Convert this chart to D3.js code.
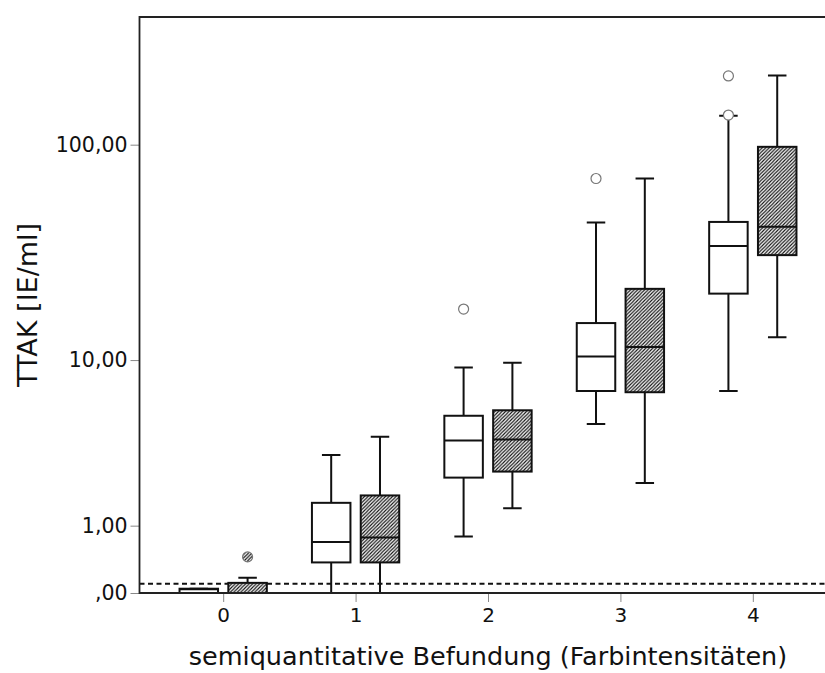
<!DOCTYPE html>
<html>
<head>
<meta charset="utf-8">
<script src="https://cdn.jsdelivr.net/npm/d3@7"></script>
<style>
  body { margin: 0; background: #fff; }
  svg { display: block; font-family: "DejaVu Sans", sans-serif; }
</style>
</head>
<body>
<svg id="chart"></svg>
<script>
// categories on the x axis and the two series drawn per category
const categories = ['0', '1', '2', '3', '4'];
const series = ['plain', 'hatched'];

// plain (white) boxes
const plainMin    = [0,     0,    0.79, 4.7,  7.0];
const plainQ1     = [0,     0.37, 2.28, 7.0,  20.8];
const plainMedian = [0.04,  0.69, 3.8,  10.4, 34.6];
const plainQ3     = [0.045, 1.53, 5.2,  15.1, 44.6];
const plainMax    = [0.045, 3.14, 9.2,  44.3, 135];
const plainOutliers = [[], [], [17.6], [70.3], [136, 204]];

// hatched boxes
const hatchedMin    = [0,    0,    1.39, 2.1,  12.9];
const hatchedQ1     = [0,    0.37, 2.49, 6.9,  31.4];
const hatchedMedian = [0,    0.77, 3.85, 11.6, 42.4];
const hatchedQ3     = [0.11, 1.73, 5.56, 21.9, 97.8];
const hatchedMax    = [0.17, 4.0,  9.7,  70.3, 205];
const hatchedOutliers = [[0.45], [], [], [], []];

// y axis ticks and the cut-off reference line
const yTickValues = [0, 1, 10, 100];
const yTickLabels = [',00', '1,00', '10,00', '100,00'];
const yMax = 375;
const cutoff = 0.1;

const width = 825;
const height = 673;
const plotLeft = 139.5, plotTop = 17, plotBottom = 593, plotRight = 836.5;

const svg = d3.select('#chart')
    .attr('width', width)
    .attr('height', height);

const defs = svg.append('defs');
const pat = defs.append('pattern')
    .attr('id', 'hatch')
    .attr('patternUnits', 'userSpaceOnUse')
    .attr('width', 3.5)
    .attr('height', 3.5);
pat.append('rect').attr('width', 3.5).attr('height', 3.5).attr('fill', '#fff');
pat.append('path')
    .attr('d', 'M-1,1 L1,-1 M0,3.5 L3.5,0 M2.5,4.5 L4.5,2.5')
    .attr('stroke', '#111')
    .attr('stroke-width', 1.15);

const x = d3.scalePoint()
    .domain(categories)
    .range([plotLeft, plotRight])
    .padding(0.632);

const xSub = d3.scaleBand()
    .domain(series)
    .range([-43.65, 43.65])
    .paddingInner(0.211);

const y = d3.scaleSymlog()
    .constant(1)
    .domain([0, yMax])
    .range([plotBottom, plotTop]);

const boxes = [];
categories.forEach((c, i) => {
    boxes.push({cat: c, s: 'plain', min: plainMin[i], q1: plainQ1[i], med: plainMedian[i],
        q3: plainQ3[i], max: plainMax[i], out: plainOutliers[i]});
    boxes.push({cat: c, s: 'hatched', min: hatchedMin[i], q1: hatchedQ1[i], med: hatchedMedian[i],
        q3: hatchedQ3[i], max: hatchedMax[i], out: hatchedOutliers[i]});
});
const cx = d => x(d.cat) + xSub(d.s) + xSub.bandwidth() / 2;
const fillOf = d => d.s === 'hatched' ? 'url(#hatch)' : '#fff';

// axes
const gy = svg.append('g')
    .attr('transform', `translate(${plotLeft},0)`)
    .call(d3.axisLeft(y)
        .tickValues(yTickValues)
        .tickFormat((d, i) => yTickLabels[i])
        .tickSize(9)
        .tickPadding(3));
gy.select('.domain').remove();
gy.selectAll('.tick line').attr('stroke', '#888');
gy.selectAll('.tick text')
    .attr('font-size', 20.5)
    .attr('fill', '#111')
    .attr('font-family', '"DejaVu Sans", sans-serif');

const gx = svg.append('g')
    .attr('transform', `translate(0,${plotBottom})`)
    .call(d3.axisBottom(x).tickSize(9).tickPadding(6));
gx.select('.domain').remove();
gx.selectAll('.tick line').attr('stroke', '#888');
gx.selectAll('.tick text')
    .attr('font-size', 20)
    .attr('fill', '#111')
    .attr('font-family', '"DejaVu Sans", sans-serif');

// cut-off line
svg.append('line')
    .attr('x1', plotLeft).attr('x2', width)
    .attr('y1', y(cutoff)).attr('y2', y(cutoff))
    .attr('stroke', '#111')
    .attr('stroke-width', 1.8)
    .attr('stroke-dasharray', '5,3.5');

// whiskers
const g = svg.append('g');
g.selectAll('.whisker')
    .data(boxes)
    .join('path')
    .attr('class', 'whisker')
    .attr('d', d => `M${cx(d)},${y(d.min)}V${y(d.q1)}M${cx(d)},${y(d.q3)}V${y(d.max)}`)
    .attr('stroke', '#111')
    .attr('stroke-width', 2);

g.selectAll('.cap')
    .data(boxes)
    .join('path')
    .attr('class', 'cap')
    .attr('d', d => `M${cx(d) - 9.25},${y(d.max)}H${cx(d) + 9.25}M${cx(d) - 9.25},${y(d.min)}H${cx(d) + 9.25}`)
    .attr('stroke', '#111')
    .attr('stroke-width', 2);

g.selectAll('.box')
    .data(boxes)
    .join('rect')
    .attr('class', 'box')
    .attr('x', d => x(d.cat) + xSub(d.s))
    .attr('width', xSub.bandwidth())
    .attr('y', d => y(d.q3))
    .attr('height', d => y(d.q1) - y(d.q3))
    .attr('fill', fillOf)
    .attr('stroke', '#111')
    .attr('stroke-width', 2);

g.selectAll('.median')
    .data(boxes)
    .join('line')
    .attr('class', 'median')
    .attr('x1', d => x(d.cat) + xSub(d.s))
    .attr('x2', d => x(d.cat) + xSub(d.s) + xSub.bandwidth())
    .attr('y1', d => y(d.med))
    .attr('y2', d => y(d.med))
    .attr('stroke', '#111')
    .attr('stroke-width', 2);

const outliers = boxes.flatMap(d => d.out.map(v => ({box: d, v: v})));
g.selectAll('.outlier')
    .data(outliers)
    .join('circle')
    .attr('class', 'outlier')
    .attr('cx', d => cx(d.box))
    .attr('cy', d => y(d.v))
    .attr('r', 5)
    .attr('fill', d => fillOf(d.box))
    .attr('stroke', '#777')
    .attr('stroke-width', 1.2);

// frame
svg.append('path')
    .attr('d', `M${width},${plotTop}H${plotLeft}V${plotBottom}H${width}`)
    .attr('fill', 'none')
    .attr('stroke', '#222')
    .attr('stroke-width', 1.8);

// titles
svg.append('text')
    .attr('x', (plotLeft + plotRight) / 2)
    .attr('y', 665)
    .attr('text-anchor', 'middle')
    .attr('font-size', 25.5)
    .attr('fill', '#111')
    .text('semiquantitative Befundung (Farbintensitäten)');

svg.append('text')
    .attr('transform', 'translate(37,305) rotate(-90)')
    .attr('text-anchor', 'middle')
    .attr('font-size', 27)
    .attr('fill', '#111')
    .text('TTAK [IE/ml]');
</script>
</body>
</html>
